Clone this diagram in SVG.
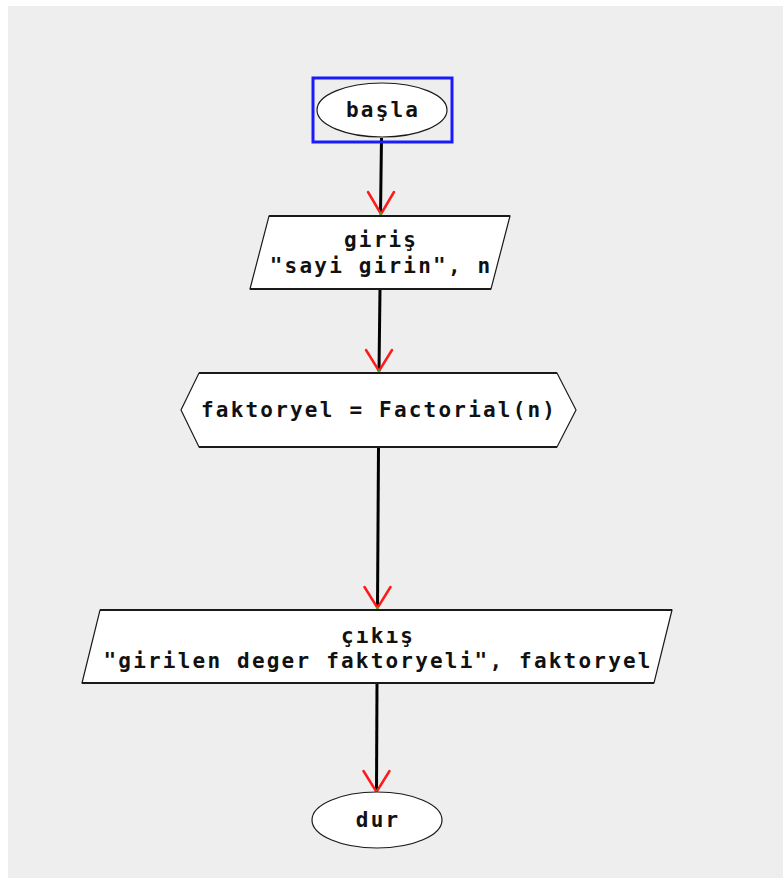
<svg xmlns="http://www.w3.org/2000/svg" width="783" height="878" viewBox="0 0 783 878">
  <style>
    .shape { fill: #ffffff; stroke: #1a1a1a; stroke-width: 1.2; }
    .edge { stroke: #1a1a1a; stroke-width: 2; }
    .conn { stroke: #000000; stroke-width: 3; fill: none; }
    .head { stroke: #ff1a1a; stroke-width: 2.5; fill: none; stroke-linecap: round; }
    .tip { fill: #44aa22; }
    .lbl { font-family: "DejaVu Sans Mono", "Liberation Mono", monospace; font-weight: bold; font-size: 21px; letter-spacing: 2.2px; fill: #111111; text-anchor: middle; }
  </style>
  <rect x="0" y="0" width="783" height="878" fill="#ffffff"/>
  <rect x="8" y="6" width="775" height="872" fill="#eeeeee"/>

  <g id="connectors">
    <line class="conn" x1="381.5" y1="138" x2="380.5" y2="214"/>
    <path class="head" d="M368,192 L381,214 L394,192"/>
    <circle class="tip" cx="380.5" cy="213.5" r="1.5"/>

    <line class="conn" x1="380" y1="289" x2="379" y2="371"/>
    <path class="head" d="M366,350 L379,371 L392,350"/>
    <circle class="tip" cx="379" cy="371" r="1.5"/>

    <line class="conn" x1="378.5" y1="447" x2="377.5" y2="608"/>
    <path class="head" d="M364.5,587 L377.5,608 L390.5,587"/>
    <circle class="tip" cx="377.5" cy="608" r="1.5"/>

    <line class="conn" x1="377" y1="683" x2="376.5" y2="792"/>
    <path class="head" d="M363.5,771 L376.5,792 L389.5,771"/>
    <circle class="tip" cx="376.5" cy="792" r="1.5"/>
  </g>

  <g id="start">
    <rect x="313" y="78" width="139" height="64" fill="none" stroke="#1a1aff" stroke-width="3"/>
    <ellipse class="shape" cx="382" cy="110" rx="65" ry="27"/>
    <text class="lbl" x="383.1" y="117">başla</text>
  </g>

  <g id="input">
    <polygon class="shape" points="269,216 510,216 491,289 250,289"/>
    <line class="edge" x1="269" y1="216" x2="510" y2="216"/>
    <line class="edge" x1="250" y1="289" x2="491" y2="289"/>
    <text class="lbl" x="381.1" y="247">giriş</text>
    <text class="lbl" x="381.1" y="273">"sayi girin", n</text>
  </g>

  <g id="process">
    <polygon class="shape" points="181,410 199,373 557,373 576,410 557,447 199,447"/>
    <line class="edge" x1="199" y1="373" x2="557" y2="373"/>
    <line class="edge" x1="199" y1="447" x2="557" y2="447"/>
    <text class="lbl" x="379.1" y="417">faktoryel = Factorial(n)</text>
  </g>

  <g id="output">
    <polygon class="shape" points="100,610 672,610 654,683 82,683"/>
    <line class="edge" x1="100" y1="610" x2="672" y2="610"/>
    <line class="edge" x1="82" y1="683" x2="654" y2="683"/>
    <text class="lbl" x="378.1" y="643">çıkış</text>
    <text class="lbl" x="378.1" y="668">"girilen deger faktoryeli", faktoryel</text>
  </g>

  <g id="end">
    <ellipse class="shape" cx="377" cy="820" rx="65" ry="28"/>
    <text class="lbl" x="378.1" y="827">dur</text>
  </g>
</svg>
